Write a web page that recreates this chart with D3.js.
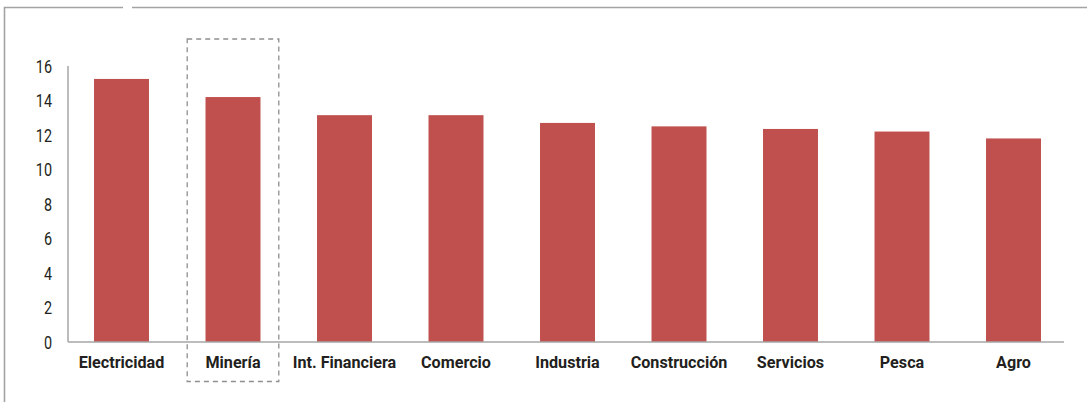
<!DOCTYPE html>
<html lang="es">
<head>
<meta charset="utf-8">
<script src="https://cdn.jsdelivr.net/npm/d3@7"></script>
<style>
  html, body { margin: 0; padding: 0; background: #fff; }
  svg { display: block; }
  .tick-label { font-family: Roboto, "DejaVu Sans Condensed", sans-serif; font-weight: 400; font-size: 18px; fill: #231f20; }
  .cat-label { font-family: Roboto, "DejaVu Sans Condensed", sans-serif; font-weight: bold; font-size: 17px; fill: #231f20; }
</style>
</head>
<body>
<svg id="chart" width="1087" height="402"></svg>
<script>
// Sector values
const categories = ["Electricidad", "Minería", "Int. Financiera", "Comercio", "Industria", "Construcción", "Servicios", "Pesca", "Agro"];
const values = [15.25, 14.2, 13.15, 13.15, 12.7, 12.5, 12.35, 12.2, 11.8];
const yTicks = [0, 2, 4, 6, 8, 10, 12, 14, 16];
const highlighted = "Minería";

const svg = d3.select("#chart");

// Outer frame: top rule with a small break, and left rule
const frame = svg.append("g").attr("stroke", "#a3a3a3").attr("stroke-width", 1.6).attr("fill", "none");
frame.append("path").attr("d", "M4.5,402 V7.5 H123");
frame.append("path").attr("d", "M132,7.5 H1087");

const x = d3.scaleBand()
  .domain(categories)
  .range([65.75, 1069.25])
  .paddingInner(0.507)
  .paddingOuter(0.2535);

const y = d3.scaleLinear().domain([0, 16]).range([342, 66]);

// Bars
svg.append("g")
  .selectAll("rect")
  .data(categories)
  .join("rect")
  .attr("x", d => x(d))
  .attr("width", x.bandwidth())
  .attr("y", (d, i) => y(values[i]))
  .attr("height", (d, i) => y(0) - y(values[i]))
  .attr("fill", "#c0504d");

// Axis lines
svg.append("line")
  .attr("x1", 68).attr("x2", 68)
  .attr("y1", y(16)).attr("y2", y(0))
  .attr("stroke", "#a6a6a6").attr("stroke-width", 1.5);
svg.append("line")
  .attr("x1", 68).attr("x2", 1064)
  .attr("y1", y(0)).attr("y2", y(0))
  .attr("stroke", "#a6a6a6").attr("stroke-width", 1.5);

// Y tick labels (condensed)
svg.append("g")
  .selectAll("text")
  .data(yTicks)
  .join("text")
  .attr("class", "tick-label")
  .attr("transform", d => `translate(52,${y(d) + 2}) scale(0.8,1)`)
  .attr("text-anchor", "end")
  .attr("dominant-baseline", "middle")
  .text(d => d);

// Category labels (condensed)
svg.append("g")
  .selectAll("text")
  .data(categories)
  .join("text")
  .attr("class", "cat-label")
  .attr("transform", d => `translate(${x(d) + x.bandwidth() / 2},368) scale(0.95,1)`)
  .attr("text-anchor", "middle")
  .text(d => d);

// Dashed box around the highlighted sector
const hx = x(highlighted) + x.bandwidth() / 2;
svg.append("rect")
  .attr("x", hx - 45.8)
  .attr("y", 39)
  .attr("width", 91.6)
  .attr("height", 342.5)
  .attr("fill", "none")
  .attr("stroke", "#8f8f8f")
  .attr("stroke-width", 1.3)
  .attr("stroke-dasharray", "5,4");
</script>
</body>
</html>
